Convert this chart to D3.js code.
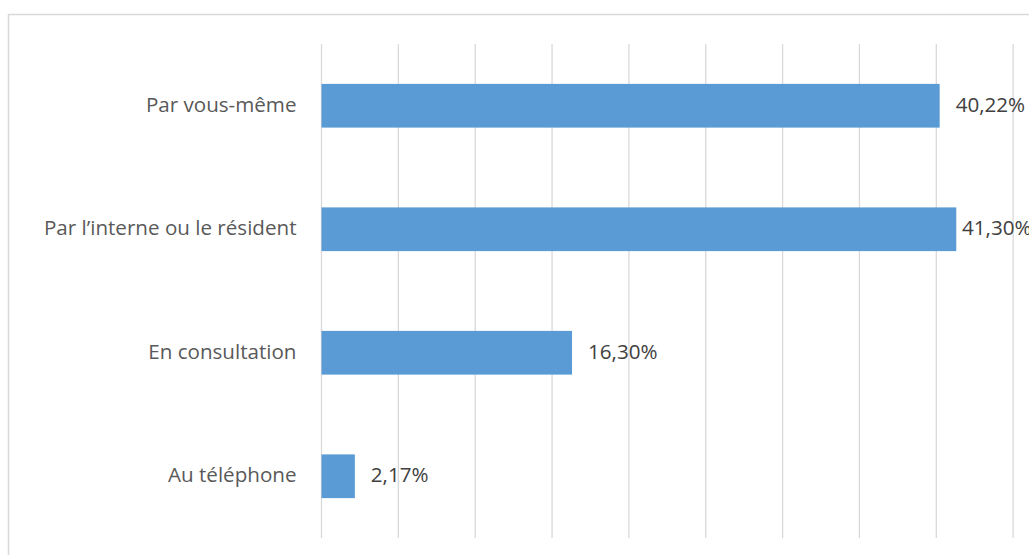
<!DOCTYPE html>
<html>
<head>
<meta charset="utf-8">
<script src="https://cdn.jsdelivr.net/npm/d3@7"></script>
<style>
  body { margin: 0; background: #fff; }
  svg { display: block; font-family: "Open Sans", "Noto Sans", sans-serif; }
</style>
</head>
<body>
<svg id="chart"></svg>
<script>
const categories = ["Par vous-même", "Par l\u2019interne ou le résident", "En consultation", "Au téléphone"];
const values = [40.22, 41.30, 16.30, 2.17];
const gridTicks = [0, 5, 10, 15, 20, 25, 30, 35, 40, 45, 50];

const W = 1029, H = 555;
const plot = {left: 321.5, top: 44, bottom: 538};
const pxPerUnit = 15.37;
const fontSize = 20.6;
// labels that would run past the chart get pushed back in, as in the original
const labelMaxX = 962;

const svg = d3.select("#chart").attr("width", W).attr("height", H);

// chart frame (cut off at right and bottom like the original)
svg.append("rect")
  .attr("x", 8.5).attr("y", 14.5)
  .attr("width", 1100).attr("height", 600)
  .attr("fill", "#fff")
  .attr("stroke", "#d9d9d9")
  .attr("stroke-width", 1.5);

const x = d3.scaleLinear()
  .domain([0, 50])
  .range([plot.left, plot.left + 50 * pxPerUnit]);

const y = d3.scaleBand()
  .domain(categories)
  .range([plot.top, plot.bottom])
  .paddingInner(0.646)
  .paddingOuter(0.323);

// vertical gridlines
svg.append("g")
  .selectAll("line")
  .data(gridTicks)
  .join("line")
  .attr("x1", d => x(d)).attr("x2", d => x(d))
  .attr("y1", plot.top).attr("y2", plot.bottom)
  .attr("stroke", "#d9d9d9")
  .attr("stroke-width", 1.3);

// bars
svg.append("g")
  .selectAll("rect")
  .data(values)
  .join("rect")
  .attr("x", x(0))
  .attr("y", (d, i) => y(categories[i]))
  .attr("width", d => x(d) - x(0))
  .attr("height", y.bandwidth())
  .attr("fill", "#5b9bd5");

// category labels
const yAxis = d3.axisLeft(y).tickSize(0).tickPadding(25);
const ax = svg.append("g")
  .attr("transform", `translate(${plot.left},0)`)
  .call(yAxis);
ax.select(".domain").remove();
ax.selectAll("text")
  .attr("font-family", "\"Open Sans\", sans-serif")
  .attr("font-size", fontSize)
  .attr("dy", "0.3em")
  .attr("fill", "#595959");

// value labels
svg.append("g")
  .selectAll("text")
  .data(values)
  .join("text")
  .attr("x", d => Math.min(x(d) + 16, labelMaxX))
  .attr("y", (d, i) => y(categories[i]) + y.bandwidth() / 2)
  .attr("dy", "0.3em")
  .attr("font-size", fontSize)
  .attr("fill", "#404040")
  .text(d => d.toFixed(2).replace(".", ",") + "%");
</script>
</body>
</html>
